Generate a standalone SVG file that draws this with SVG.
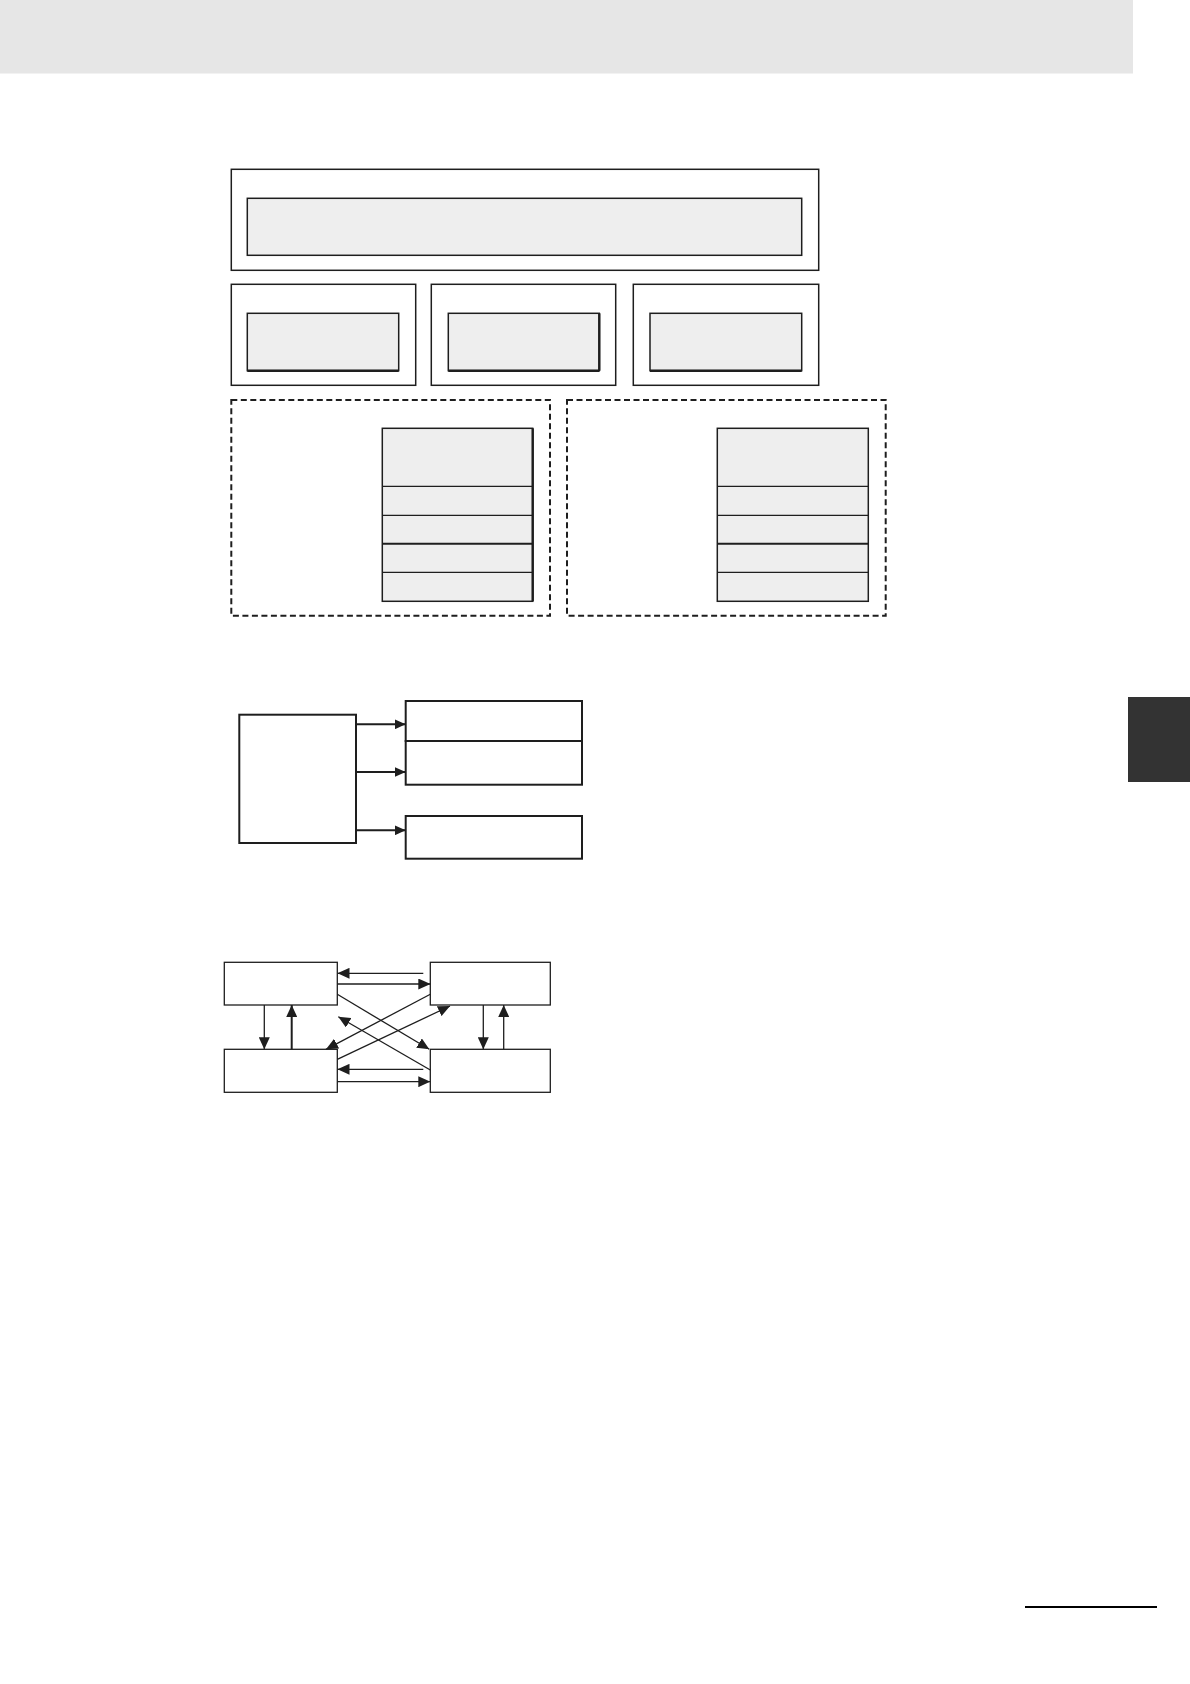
<svg xmlns="http://www.w3.org/2000/svg" width="1190" height="1684" viewBox="0 0 1190 1684">
<style>
.frame{fill:#fff;stroke:#1e1e1e;stroke-width:1.5}
.inner{fill:#eeeeee;stroke:#1e1e1e;stroke-width:1.5}
.dash{fill:none;stroke:#1e1e1e;stroke-width:2;stroke-dasharray:6,3.5}
.wbox{fill:#fff;stroke:#1e1e1e;stroke-width:2}
.gbox{fill:#fff;stroke:#1e1e1e;stroke-width:1.3}
.conn{fill:none;stroke:#1e1e1e;stroke-width:2}
.conn2{fill:none;stroke:#1e1e1e;stroke-width:1.3}
.shade{stroke:#1e1e1e;stroke-width:2.4}
</style>
<defs>
<marker id="ah" markerWidth="11" markerHeight="10" refX="11" refY="5" orient="auto" markerUnits="userSpaceOnUse">
<path d="M0,0 L11,5 L0,10 z" fill="#1e1e1e"/>
</marker>
<marker id="ah2" markerWidth="12" markerHeight="11" refX="12" refY="5.5" orient="auto" markerUnits="userSpaceOnUse">
<path d="M0,0 L12,5.5 L0,11 z" fill="#1e1e1e"/>
</marker>
</defs>
<rect id="header" x="0" y="0" width="1133" height="73.5" fill="#e6e6e6"/>
<rect id="tab" x="1128" y="697" width="62" height="85" fill="#333"/>
<line id="footer" x1="1025" y1="1607" x2="1157" y2="1607" stroke="#000" stroke-width="2.2"/>

<g id="top-frame"><rect class="frame" x="231.3" y="169.3" width="587.4" height="101"/><rect class="inner" x="247.3" y="198.3" width="554.4" height="57"/></g>
<g id="box1"><rect class="frame" x="231.3" y="284.3" width="184.4" height="101"/><rect class="inner" x="247.3" y="313.3" width="151.4" height="57.4"/><line class="shade" x1="247.3" y1="370.7" x2="398.7" y2="370.7"/></g>
<g id="box2"><rect class="frame" x="431.3" y="284.3" width="184.4" height="101"/><rect class="inner" x="448.3" y="313.3" width="151" height="57.4"/><line class="shade" x1="448.3" y1="370.7" x2="599.3" y2="370.7"/><line class="shade" x1="599.3" y1="313.3" x2="599.3" y2="370.7"/></g>
<g id="box3"><rect class="frame" x="633.3" y="284.3" width="185.4" height="101"/><rect class="inner" x="650" y="313.3" width="151.7" height="57.4"/><line class="shade" x1="650" y1="370.7" x2="801.7" y2="370.7"/></g>

<g id="group-left">
<rect class="dash" x="231.3" y="400" width="318.7" height="215.7"/>
<rect class="inner" x="382.3" y="428.3" width="150.4" height="173"/>
<line class="shade" x1="532.7" y1="428.3" x2="532.7" y2="601.3"/>
<line class="conn2" x1="382.3" y1="486.3" x2="532.7" y2="486.3"/>
<line class="conn2" x1="382.3" y1="515.3" x2="532.7" y2="515.3"/>
<line class="conn" x1="382.3" y1="543.7" x2="532.7" y2="543.7"/>
<line class="conn2" x1="382.3" y1="572.3" x2="532.7" y2="572.3"/>
</g>
<g id="group-right">
<rect class="dash" x="567" y="400" width="318.7" height="215.7"/>
<rect class="inner" x="717.3" y="428.3" width="151" height="173"/>
<line class="conn2" x1="717.3" y1="486.3" x2="868.3" y2="486.3"/>
<line class="conn2" x1="717.3" y1="515.3" x2="868.3" y2="515.3"/>
<line class="conn" x1="717.3" y1="543.7" x2="868.3" y2="543.7"/>
<line class="conn2" x1="717.3" y1="572.3" x2="868.3" y2="572.3"/>
</g>

<g id="src"><rect class="wbox" x="239.3" y="714.7" width="116.7" height="128.3"/></g>
<g id="dst1"><rect class="wbox" x="405.7" y="701" width="176.3" height="40"/></g>
<g id="dst2"><rect class="wbox" x="405.7" y="741" width="176.3" height="43.7"/></g>
<g id="dst3"><rect class="wbox" x="405.7" y="816" width="176.3" height="42.7"/></g>

<g id="n-tl"><rect class="gbox" x="224.3" y="962.3" width="113" height="42.7"/></g>
<g id="n-tr"><rect class="gbox" x="430.3" y="962.3" width="120" height="42.7"/></g>
<g id="n-bl"><rect class="gbox" x="224.3" y="1049.3" width="113" height="43"/></g>
<g id="n-br"><rect class="gbox" x="430.3" y="1049.3" width="120" height="43"/></g>

<g id="connectors">
<line class="conn" x1="356" y1="724.3" x2="405.7" y2="724.3" marker-end="url(#ah)"/>
<line class="conn" x1="356" y1="772" x2="405.7" y2="772" marker-end="url(#ah)"/>
<line class="conn" x1="356" y1="830.3" x2="405.7" y2="830.3" marker-end="url(#ah)"/>

<line class="conn2" x1="423.3" y1="973.3" x2="337.5" y2="973.3" marker-end="url(#ah2)"/>
<line class="conn2" x1="337.3" y1="984" x2="430.3" y2="984" marker-end="url(#ah2)"/>
<line class="conn2" x1="423.3" y1="1069.3" x2="337.5" y2="1069.3" marker-end="url(#ah2)"/>
<line class="conn2" x1="337.3" y1="1081.7" x2="430.3" y2="1081.7" marker-end="url(#ah2)"/>

<line class="conn2" x1="264.3" y1="1005" x2="264.3" y2="1049.3" marker-end="url(#ah2)"/>
<line class="conn" x1="291.7" y1="1049.3" x2="291.7" y2="1005" marker-end="url(#ah2)"/>
<line class="conn2" x1="483.3" y1="1005" x2="483.3" y2="1049.3" marker-end="url(#ah2)"/>
<line class="conn2" x1="503.7" y1="1049.3" x2="503.7" y2="1005" marker-end="url(#ah2)"/>

<line class="conn2" x1="337.3" y1="994.3" x2="429.3" y2="1049.3" marker-end="url(#ah2)"/>
<line class="conn2" x1="430.3" y1="1070" x2="338.3" y2="1016.7" marker-end="url(#ah2)"/>
<line class="conn2" x1="430.3" y1="994.3" x2="326" y2="1049.3" marker-end="url(#ah2)"/>
<line class="conn2" x1="337.3" y1="1059.3" x2="450" y2="1006" marker-end="url(#ah2)"/>
</g>
</svg>
